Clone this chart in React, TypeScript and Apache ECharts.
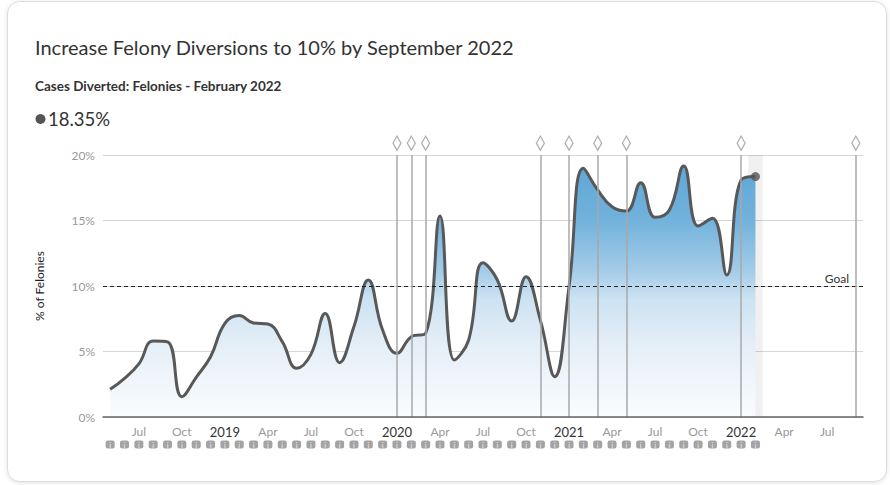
import React, { useEffect, useRef } from "react";
import * as echarts from "echarts";

const months: string[] = [];
for (let y = 2018; y <= 2022; y++) {
  for (let m = 1; m <= 12; m++) {
    if (y === 2018 && m < 5) continue;
    if (y === 2022 && m > 9) continue;
    months.push(`${y}-${String(m).padStart(2, "0")}`);
  }
}

const felonyPct = [
  2.11, 2.95, 4.05, 5.8, 5.73, 1.55, 3.03, 4.6, 7.15, 7.74, 7.18, 7.1,
  5.75, 3.72, 4.78, 7.91, 4.15, 6.9, 10.46, 6.64, 4.86, 6.13, 6.39, 15.34,
  4.35, 5.88, 11.78, 10.46, 7.33, 10.71, 7.4, 3.08, 9.95, 18.98, 17.33, 16.05,
  15.72, 17.89, 15.24, 15.8, 19.16, 14.58, 15.17, 10.84, 18.09, 18.35,
];

const eventMonths = [
  "2020-01", "2020-02", "2020-03", "2020-11", "2021-01", "2021-03", "2021-05", "2022-01", "2022-09",
];

const goalValue = 10;
const currentMonth = "2022-02";
const yTicks = [0, 5, 10, 15, 20];

const FONT = "Lato";

export default function App() {
  const ref = useRef<HTMLDivElement>(null);
  useEffect(() => {
    if (!ref.current) return;
    const chart = echarts.init(ref.current, null, { renderer: "svg" });
    const dataMonths = months.slice(0, felonyPct.length);
    const last = felonyPct[felonyPct.length - 1];
    const option: any = {
      animation: false,
      textStyle: { fontFamily: FONT },
      title: [
        {
          text: "Increase Felony Diversions to 10% by September 2022",
          left: 30,
          top: 32,
          textStyle: { fontFamily: FONT, fontSize: 20, fontWeight: "normal", color: "#333" },
        },
        {
          text: "Cases Diverted: Felonies - February 2022",
          left: 30,
          top: 74,
          textStyle: { fontFamily: FONT, fontSize: 13.5, fontWeight: "bold", color: "#333" },
        },
        {
          text: last.toFixed(2) + "%",
          left: 43,
          top: 104,
          textStyle: { fontFamily: FONT, fontSize: 18.5, fontWeight: "normal", color: "#333" },
        },
      ],
      graphic: [
        {
          type: "rect",
          z: -10,
          shape: { x: 7.5, y: 1.5, width: 879, height: 480, r: 12 },
          style: {
            fill: "#fff",
            stroke: "#dcdcdc",
            lineWidth: 1,
            shadowBlur: 4,
            shadowColor: "rgba(0,0,0,0.12)",
            shadowOffsetY: 1,
          },
        },
        {
          type: "circle",
          shape: { cx: 40.5, cy: 119, r: 5 },
          style: { fill: "#555" },
        },
      ],
      grid: [
        { left: 103, right: 27, top: 155, bottom: 68 },
        { left: 103, right: 27, top: 440, height: 9 },
      ],
      xAxis: [
        {
          type: "category",
          data: months,
          boundaryGap: true,
          z: 10,
          axisLine: { lineStyle: { color: "#666", width: 1.5 } },
          axisTick: { alignWithLabel: true, interval: 0, length: 4, lineStyle: { color: "#666" } },
          axisLabel: {
            interval: 0,
            margin: 8,
            formatter: (v: string) => {
              const [y, m] = v.split("-");
              if (m === "01") return `{y|${y}}`;
              const names: Record<string, string> = { "04": "Apr", "07": "Jul", "10": "Oct" };
              return names[m] ? `{m|${names[m]}}` : "";
            },
            rich: {
              y: { fontFamily: FONT, fontSize: 13, color: "#333", lineHeight: 13 },
              m: { fontFamily: FONT, fontSize: 12, color: "#999", lineHeight: 13 },
            },
          },
          splitLine: { show: false },
        },
        {
          type: "category",
          gridIndex: 1,
          data: months,
          boundaryGap: true,
          show: false,
        },
      ],
      yAxis: [
        {
          type: "value",
          min: 0,
          max: 20,
          interval: 5,
          name: "% of Felonies",
          nameLocation: "middle",
          nameGap: 58,
          nameTextStyle: { fontFamily: FONT, fontSize: 12, color: "#222" },
          axisLine: { show: false },
          axisTick: { show: false },
          axisLabel: {
            formatter: (v: number) => (yTicks.includes(v) ? v + "%" : ""),
            color: "#999",
            fontSize: 12,
            fontFamily: FONT,
            margin: 8,
          },
          splitLine: { lineStyle: { color: "#d6d6d6", width: 1 } },
        },
        { type: "value", gridIndex: 1, min: 0, max: 1, show: false },
      ],
      series: [
        {
          type: "bar",
          data: months.map((m) => (m === currentMonth ? 20 : null)),
          barWidth: "100%",
          itemStyle: { color: "rgba(0,0,0,0.06)" },
          silent: true,
          z: 0,
        },
        {
          type: "line",
          data: felonyPct,
          smooth: 0.45,
          showSymbol: false,
          lineStyle: { color: "#585858", width: 3 },
          areaStyle: {
            color: new echarts.graphic.LinearGradient(
              0,
              155,
              0,
              417,
              [
                { offset: 0, color: "#5ca5d4" },
                { offset: 0.25, color: "#72b2dc" },
                { offset: 0.45, color: "#a6cde8" },
                { offset: 0.55, color: "#cde2f2" },
                { offset: 0.75, color: "#e7f0f8" },
                { offset: 1, color: "#fafcfe" },
              ],
              true
            ),
            opacity: 1,
          },
          z: 3,
          markLine: {
            silent: true,
            symbol: ["none", "none"],
            data: [
              {
                yAxis: goalValue,
                lineStyle: { color: "#222", type: [4, 3], width: 1.2 },
                label: {
                  show: true,
                  position: "insideEndTop",
                  formatter: "Goal",
                  color: "#333",
                  fontSize: 12,
                  fontFamily: FONT,
                  distance: [14, 2],
                },
              },
              ...eventMonths.map((m) => ({
                xAxis: m,
                lineStyle: { color: "#a8a8a8", type: "solid", width: 1.5 },
                label: { show: false },
              })),
            ],
          },
        },
        {
          type: "scatter",
          data: eventMonths.map((m) => [m, 20.9]),
          symbol: "diamond",
          symbolSize: [8, 14],
          clip: false,
          itemStyle: { color: "#fff", borderColor: "#9a9a9a", borderWidth: 1.3 },
          z: 4,
        },
        {
          type: "scatter",
          data: [[dataMonths[dataMonths.length - 1], last]],
          symbol: "circle",
          symbolSize: 9,
          itemStyle: { color: "#555" },
          z: 5,
        },
        {
          type: "scatter",
          xAxisIndex: 1,
          yAxisIndex: 1,
          data: dataMonths.map((m) => [m, 0.5]),
          symbol: "roundRect",
          symbolSize: [9, 8],
          itemStyle: { color: "#8c8c8c" },
          label: {
            show: true,
            position: "inside",
            formatter: "i",
            color: "#eee",
            fontSize: 7,
            fontWeight: "bold",
            fontFamily: FONT,
          },
        },
      ],
    };
    chart.setOption(option);
    return () => chart.dispose();
  }, []);
  return (
    <div
      ref={ref}
      style={{ position: "fixed", left: 0, top: 0, width: 890, height: 485, background: "#fff" }}
    />
  );
}
